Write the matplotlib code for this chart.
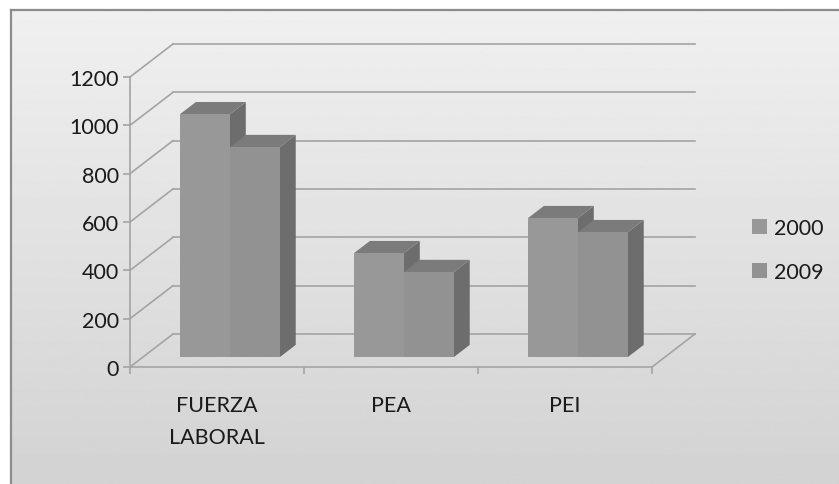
import numpy as np
import matplotlib
matplotlib.use("Agg")
import matplotlib.pyplot as plt
from matplotlib.patches import Patch
from matplotlib.lines import Line2D

plt.rcParams['font.family'] = ['Lato', 'DejaVu Sans']

categories = ["FUERZA\nLABORAL", "PEA", "PEI"]
years = ["2000", "2009"]
values_2000 = [1005, 430, 575]
values_2009 = [869, 352, 517]
y_ticks = [0, 200, 400, 600, 800, 1000, 1200]

# pseudo-3d geometry (data units): full depth offset of the back wall
DX, DY = 0.247, 136.6
BAR_D0, BAR_D1 = 0.30, 0.67
BAR_W = 0.287

front_cols = ["#989898", "#929292"]
top_col = "#7b7b7b"
side_col = "#6d6d6d"
grid_col = "#a4a4a4"
text_col = "#1a1a1a"

W, H = 839, 485
fig = plt.figure(figsize=(W / 100, H / 100), dpi=100)
fig.patch.set_facecolor("white")

# chart area background gradient
bg = fig.add_axes([11 / W, 0, 1 - 11 / W, 1 - 11 / H])
grad = np.linspace(0.94, 0.825, 256).reshape(-1, 1)
bg.imshow(grad, aspect="auto", cmap="gray", vmin=0, vmax=1, extent=[0, 1, 0, 1])
bg.set_axis_off()
fig.add_artist(Line2D([11 / W, 1], [1 - 11 / H, 1 - 11 / H], color="#8c8c8c", lw=1.6))
fig.add_artist(Line2D([11 / W, 11 / W], [0, 1 - 11 / H], color="#8c8c8c", lw=1.6))

ax = fig.add_axes([130 / W, 117 / H, 3.3 * 174 / W, 1400 * 0.24167 / H])
ax.patch.set_visible(False)
ax.set_xlim(0, 3.3)
ax.set_ylim(0, 1400)


def proj(x, v, d):
    return x + d * DX, v + d * DY


# walls
for v in y_ticks:
    ax.plot([DX, 3 + DX], [v + DY, v + DY], color=grid_col, lw=1.2, zorder=1)
    ax.plot([0, DX], [v, v + DY], color=grid_col, lw=1.2, zorder=1)
ax.plot([3, 3 + DX], [0, DY], color=grid_col, lw=1.2, zorder=1)


def draw_box(x0, x1, v, color):
    fx = [x0, x1, x1, x0]
    fy = [0, 0, v, v]
    pts = [proj(x, y, BAR_D0) for x, y in zip(fx, fy)]
    # right side
    a = proj(x1, 0, BAR_D0); b = proj(x1, 0, BAR_D1)
    c = proj(x1, v, BAR_D1); d = proj(x1, v, BAR_D0)
    ax.fill([a[0], b[0], c[0], d[0]], [a[1], b[1], c[1], d[1]], color=side_col, lw=0, zorder=3)
    # top
    a = proj(x0, v, BAR_D0); b = proj(x1, v, BAR_D0)
    c = proj(x1, v, BAR_D1); d = proj(x0, v, BAR_D1)
    ax.fill([a[0], b[0], c[0], d[0]], [a[1], b[1], c[1], d[1]], color=top_col, lw=0, zorder=3)
    ax.fill([p[0] for p in pts], [p[1] for p in pts], color=color, lw=0, zorder=3)


for i in range(len(categories)):
    c = i + 0.5
    draw_box(c - BAR_W, c, values_2000[i], front_cols[0])
    draw_box(c, c + BAR_W, values_2009[i], front_cols[1])

for s in ["top", "right"]:
    ax.spines[s].set_visible(False)
ax.spines["left"].set_bounds(0, 1200)
ax.spines["bottom"].set_bounds(0, 3)
for s in ["left", "bottom"]:
    ax.spines[s].set_color(grid_col)
    ax.spines[s].set_linewidth(1.2)

ax.set_yticks(y_ticks)
ax.tick_params(axis="y", length=5, width=1.2, color=grid_col, pad=3,
               labelsize=15.5, labelcolor=text_col)
ax.set_xticks([0, 1, 2, 3])
ax.set_xticklabels([])
ax.tick_params(axis="x", which="major", length=5, width=1.2, color=grid_col)
ax.set_xticks([0.5, 1.5, 2.5], minor=True)
ax.set_xticklabels(categories, minor=True, fontsize=15.5, color=text_col, linespacing=1.75)
ax.tick_params(axis="x", which="minor", length=0, pad=20)

handles = [Patch(facecolor=front_cols[0], edgecolor="none"),
           Patch(facecolor=front_cols[1], edgecolor="none")]
fig.legend(handles, years, loc="upper left", bbox_to_anchor=(752 / W, 1 - 219 / H),
           frameon=False, handlelength=0.7, handleheight=0.7, handletextpad=0.3,
           labelspacing=1.1, borderpad=0, borderaxespad=0, fontsize=15.5,
           labelcolor=text_col)

fig.savefig("out.png", dpi=100)
